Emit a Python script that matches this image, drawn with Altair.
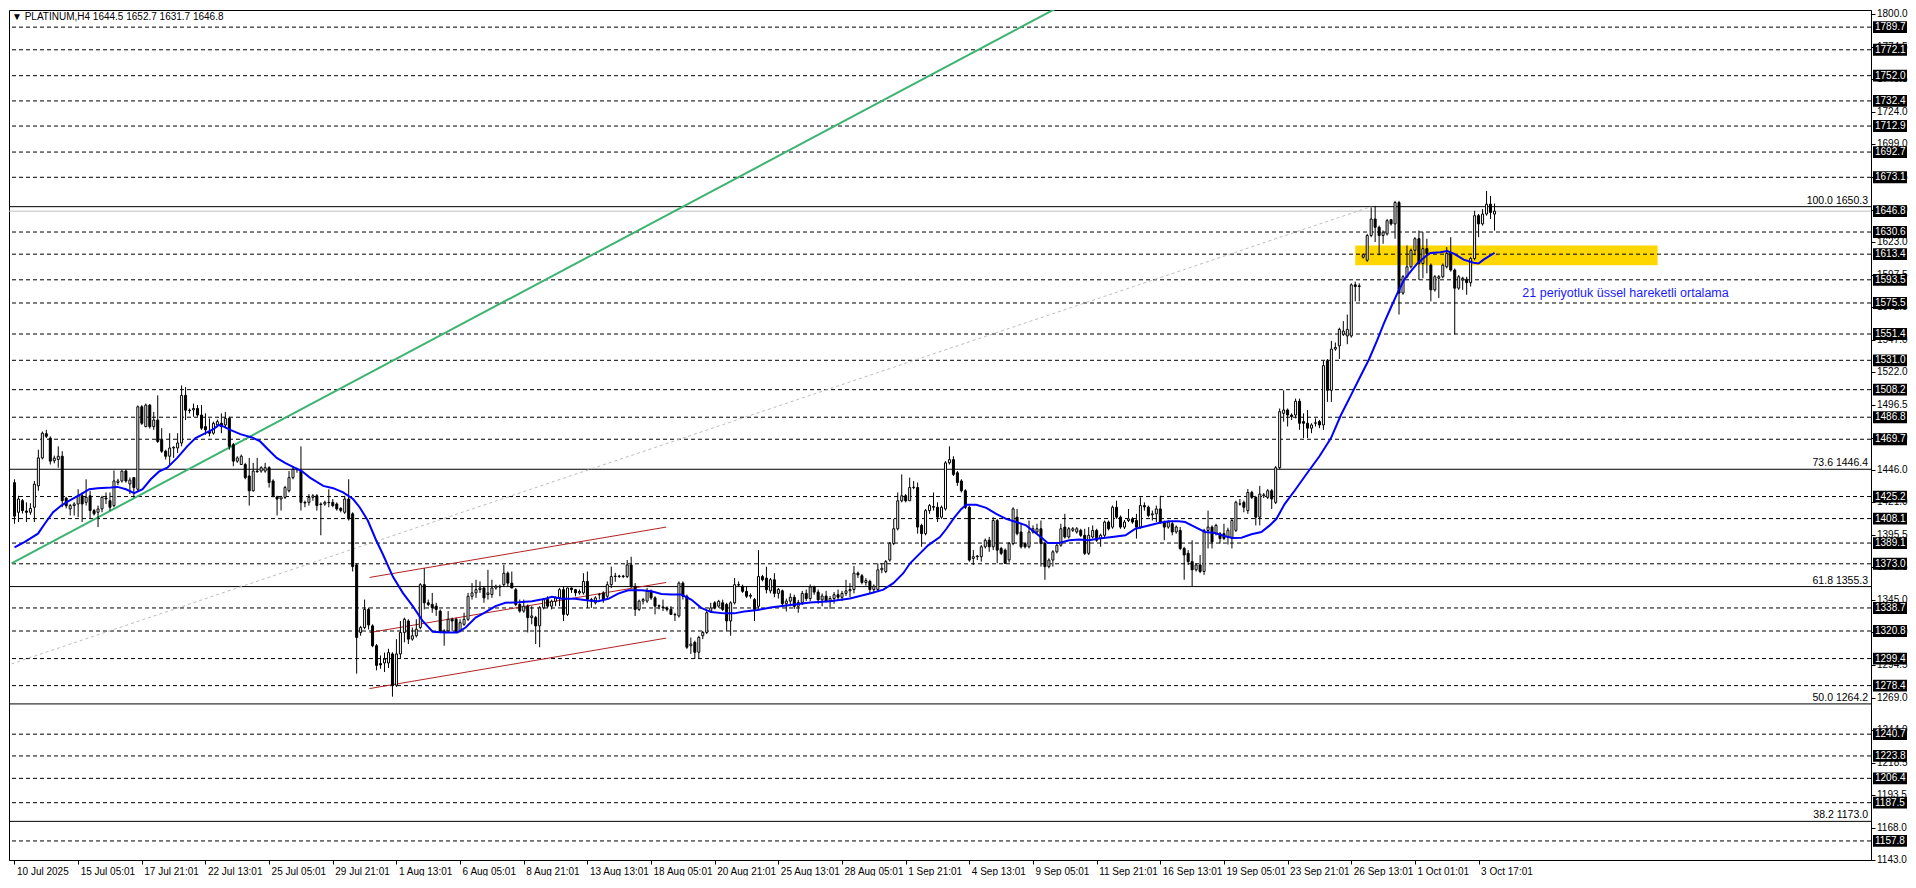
import json
import altair as alt
import pandas as pd

# ---------------- data (PLATINUM, H4) ----------------
opens = [
    1436.0, 1413.0, 1422.0, 1414.0, 1413.0, 1416.9, 1433.5, 1455.2, 1474.0, 1470.6,
    1453.0, 1454.0, 1456.5, 1424.0, 1415.6, 1418.2, 1419.4, 1425.8, 1420.7, 1425.8,
    1414.3, 1413.0, 1415.6, 1424.0, 1422.0, 1418.2, 1436.1, 1437.3, 1445.0, 1435.0,
    1439.9, 1430.9, 1494.9, 1479.5, 1496.2, 1479.5, 1484.6, 1469.3, 1460.4, 1456.5,
    1462.9, 1462.9, 1466.8, 1503.8, 1492.3, 1492.5, 1493.6, 1488.5, 1479.5, 1475.7,
    1474.4, 1480.8, 1482.1, 1480.8, 1485.9, 1465.5, 1452.7, 1450.1, 1450.1, 1441.2,
    1429.7, 1445.0, 1445.0, 1445.0, 1447.6, 1437.3, 1425.0, 1423.3, 1424.6, 1429.7,
    1439.9, 1446.3, 1445.0, 1420.7, 1420.7, 1424.6, 1425.8, 1419.4, 1419.4, 1420.7,
    1420.7, 1419.4, 1416.0, 1413.0, 1423.3, 1411.8, 1372.1, 1319.7, 1323.5, 1337.6,
    1324.8, 1309.4, 1295.5, 1296.0, 1296.0, 1303.0, 1278.7, 1303.0, 1319.7, 1328.6,
    1314.5, 1317.1, 1323.5, 1356.8, 1342.7, 1341.4, 1340.1, 1336.3, 1320.9, 1320.9,
    1329.9, 1329.9, 1320.9, 1326.0, 1329.9, 1347.8, 1350.4, 1353.0, 1354.2, 1349.1,
    1349.1, 1354.2, 1355.5, 1356.8, 1365.7, 1358.0, 1352.9, 1341.4, 1336.3, 1340.1,
    1331.2, 1331.2, 1324.8, 1338.8, 1345.2, 1340.1, 1343.9, 1346.5, 1352.9, 1333.7,
    1354.2, 1352.9, 1350.4, 1350.4, 1359.3, 1345.2, 1342.7, 1349.0, 1350.4, 1347.8,
    1356.8, 1363.1, 1363.1, 1363.5, 1363.1, 1372.1, 1355.5, 1337.6, 1344.0, 1344.0,
    1351.6, 1346.5, 1340.1, 1339.5, 1338.8, 1337.6, 1333.7, 1332.5, 1358.0, 1347.8,
    1309.4, 1312.0, 1304.3, 1317.1, 1319.7, 1336.3, 1342.7, 1340.1, 1342.7, 1341.4,
    1328.6, 1342.7, 1356.8, 1355.5, 1351.6, 1347.8, 1345.2, 1340.0, 1363.1, 1361.9,
    1352.0, 1360.6, 1350.0, 1352.0, 1342.0, 1344.0, 1347.0, 1340.0, 1343.0, 1350.0,
    1346.0, 1355.0, 1351.0, 1345.0, 1348.0, 1344.0, 1346.0, 1349.0, 1347.0, 1350.0,
    1352.0, 1353.0, 1365.7, 1363.7, 1358.5, 1359.3, 1353.0, 1353.0, 1368.3, 1367.0,
    1375.9, 1388.7, 1400.2, 1421.9, 1425.8, 1421.9, 1432.2, 1432.2, 1402.8, 1396.4,
    1414.3, 1417.5, 1416.9, 1409.2, 1415.6, 1451.4, 1453.9, 1443.7, 1437.3, 1429.7,
    1416.9, 1377.2, 1378.5, 1378.5, 1386.2, 1391.3, 1386.2, 1406.6, 1384.9, 1383.6,
    1376.0, 1388.7, 1409.2, 1397.7, 1388.7, 1386.2, 1397.7, 1397.7, 1400.2, 1388.7,
    1370.8, 1375.9, 1382.3, 1387.4, 1401.5, 1393.8, 1399.0, 1397.7, 1398.9, 1395.1,
    1381.1, 1393.8, 1398.9, 1392.6, 1395.1, 1405.4, 1401.5, 1416.9, 1409.2, 1401.5,
    1406.6, 1407.9, 1406.6, 1401.5, 1418.2, 1416.9, 1411.0, 1411.8, 1415.6, 1405.4,
    1401.5, 1404.1, 1397.7, 1398.9, 1384.9, 1381.1, 1374.7, 1368.3, 1372.1, 1367.0,
    1398.9, 1401.5, 1396.4, 1396.4, 1396.4, 1393.9, 1392.6, 1399.0, 1419.4, 1420.7,
    1414.3, 1428.4, 1424.6, 1409.2, 1425.8, 1424.6, 1429.7, 1420.7, 1447.6, 1489.8,
    1492.4, 1488.5, 1488.5, 1499.2, 1483.4, 1482.1, 1478.3, 1482.1, 1483.4, 1480.8,
    1530.7, 1507.7, 1539.7, 1542.2, 1551.2, 1549.9, 1549.9, 1589.6, 1588.8, 1611.0,
    1608.7, 1627.9, 1640.7, 1634.3, 1627.9, 1629.2, 1640.2, 1636.9, 1653.5, 1583.2,
    1595.9, 1603.6, 1616.4, 1625.4, 1606.2, 1617.7, 1604.9, 1585.7, 1594.7, 1595.9,
    1603.6, 1613.9, 1601.1, 1587.0, 1593.4, 1593.9, 1591.3, 1610.0, 1643.3, 1636.9,
    1644.6, 1652.2, 1644.5,
]
highs = [
    1438.6, 1425.8, 1423.3, 1420.7, 1420.0, 1437.3, 1461.6, 1475.7, 1477.0, 1471.9,
    1457.0, 1464.2, 1460.4, 1425.0, 1419.4, 1420.7, 1430.9, 1428.4, 1438.6, 1429.7,
    1415.6, 1418.2, 1425.8, 1428.4, 1428.4, 1445.5, 1439.0, 1445.5, 1446.3, 1440.0,
    1440.0, 1496.0, 1496.2, 1497.4, 1497.0, 1491.0, 1503.8, 1478.3, 1461.6, 1474.4,
    1464.2, 1474.4, 1511.5, 1510.2, 1493.6, 1497.4, 1496.2, 1496.2, 1489.8, 1485.9,
    1483.4, 1485.0, 1489.8, 1491.0, 1487.2, 1466.8, 1456.5, 1457.8, 1451.4, 1455.2,
    1451.4, 1455.2, 1448.8, 1451.4, 1448.8, 1438.6, 1425.8, 1425.8, 1433.5, 1445.0,
    1448.8, 1447.6, 1464.2, 1422.0, 1427.1, 1427.1, 1427.1, 1420.7, 1422.0, 1430.9,
    1423.3, 1420.7, 1417.0, 1425.8, 1438.6, 1413.0, 1373.4, 1324.8, 1345.2, 1339.0,
    1326.0, 1310.7, 1301.8, 1304.0, 1307.0, 1304.3, 1314.5, 1328.6, 1331.2, 1329.9,
    1323.5, 1329.9, 1358.0, 1369.5, 1345.2, 1350.4, 1342.7, 1337.6, 1322.2, 1336.3,
    1331.2, 1331.2, 1329.9, 1335.0, 1350.4, 1358.0, 1360.6, 1359.3, 1355.5, 1368.3,
    1360.6, 1356.8, 1356.8, 1372.1, 1367.0, 1367.0, 1354.2, 1345.2, 1345.2, 1341.4,
    1340.1, 1332.5, 1340.1, 1346.5, 1347.8, 1345.2, 1347.8, 1354.2, 1355.5, 1354.5,
    1354.5, 1353.5, 1353.0, 1365.7, 1367.0, 1346.5, 1347.8, 1350.4, 1351.6, 1359.3,
    1370.8, 1366.0, 1364.5, 1364.4, 1375.9, 1378.5, 1358.0, 1345.2, 1346.5, 1354.2,
    1353.0, 1347.8, 1341.4, 1345.2, 1340.0, 1340.1, 1335.0, 1359.3, 1359.3, 1349.1,
    1315.8, 1313.3, 1317.1, 1320.9, 1336.3, 1342.7, 1344.0, 1345.0, 1345.2, 1342.7,
    1343.9, 1361.9, 1359.3, 1356.8, 1355.5, 1350.0, 1346.5, 1383.6, 1364.4, 1370.8,
    1362.0, 1365.7, 1354.2, 1353.0, 1346.0, 1350.0, 1349.0, 1345.0, 1352.0, 1353.0,
    1357.0, 1356.0, 1353.0, 1350.0, 1352.0, 1348.0, 1351.0, 1353.0, 1352.0, 1360.6,
    1358.0, 1371.3, 1367.0, 1365.0, 1361.9, 1360.6, 1357.0, 1373.4, 1373.4, 1375.9,
    1390.0, 1407.9, 1428.4, 1442.4, 1427.1, 1439.9, 1437.3, 1436.1, 1404.1, 1415.6,
    1419.4, 1428.4, 1420.7, 1418.2, 1452.7, 1464.2, 1456.5, 1445.0, 1438.6, 1430.9,
    1418.2, 1383.6, 1379.8, 1387.5, 1392.6, 1393.9, 1409.2, 1407.9, 1386.2, 1384.9,
    1390.0, 1416.9, 1415.6, 1404.1, 1390.0, 1406.6, 1402.8, 1404.1, 1406.6, 1390.0,
    1377.2, 1383.6, 1390.0, 1404.1, 1411.8, 1401.5, 1401.5, 1401.5, 1400.2, 1400.2,
    1401.5, 1402.8, 1400.2, 1396.4, 1406.6, 1406.6, 1418.2, 1422.0, 1410.5, 1407.0,
    1415.6, 1409.2, 1411.8, 1424.6, 1420.7, 1418.2, 1414.3, 1418.2, 1425.8, 1406.6,
    1406.6, 1405.4, 1402.8, 1401.5, 1386.2, 1383.6, 1391.3, 1373.4, 1379.8, 1400.2,
    1414.3, 1402.8, 1404.1, 1397.7, 1404.1, 1401.0, 1407.9, 1422.0, 1423.3, 1422.0,
    1431.0, 1429.7, 1425.8, 1433.5, 1428.0, 1431.0, 1431.0, 1448.9, 1493.6, 1507.7,
    1493.6, 1489.8, 1501.3, 1501.3, 1489.8, 1492.3, 1482.1, 1485.9, 1484.7, 1530.7,
    1532.0, 1546.1, 1544.8, 1556.3, 1561.4, 1566.5, 1590.8, 1592.1, 1590.8, 1614.0,
    1629.2, 1649.7, 1650.9, 1635.6, 1631.8, 1640.7, 1640.7, 1654.8, 1654.8, 1597.2,
    1620.2, 1617.7, 1626.6, 1631.8, 1630.5, 1625.4, 1606.2, 1597.2, 1597.2, 1606.2,
    1618.9, 1626.6, 1602.3, 1597.2, 1595.9, 1595.9, 1611.3, 1647.1, 1644.6, 1648.4,
    1662.5, 1658.6, 1652.7,
]
lows = [
    1404.1, 1405.4, 1412.0, 1405.4, 1411.0, 1405.4, 1429.7, 1454.0, 1470.6, 1450.1,
    1451.0, 1447.6, 1416.9, 1416.0, 1410.5, 1410.5, 1409.2, 1405.4, 1418.2, 1407.9,
    1410.5, 1401.5, 1413.0, 1419.4, 1414.3, 1416.9, 1434.0, 1436.0, 1436.0, 1427.1,
    1424.6, 1429.0, 1480.8, 1479.0, 1478.0, 1477.0, 1466.8, 1459.1, 1454.0, 1450.1,
    1455.2, 1459.1, 1464.2, 1484.6, 1489.8, 1487.2, 1487.2, 1477.0, 1473.2, 1471.9,
    1473.2, 1479.0, 1474.4, 1478.3, 1461.6, 1448.8, 1451.4, 1450.0, 1438.6, 1418.2,
    1429.0, 1443.7, 1443.7, 1443.7, 1432.2, 1424.6, 1410.5, 1414.3, 1423.3, 1428.4,
    1438.6, 1443.7, 1414.3, 1416.9, 1418.2, 1422.0, 1414.3, 1395.1, 1418.0, 1416.9,
    1416.9, 1414.3, 1413.0, 1411.8, 1406.6, 1367.0, 1287.7, 1317.1, 1322.2, 1322.0,
    1308.2, 1290.3, 1291.5, 1289.0, 1292.0, 1269.8, 1277.4, 1299.2, 1312.0, 1310.7,
    1313.3, 1315.8, 1322.2, 1337.6, 1340.1, 1335.0, 1332.5, 1319.0, 1309.4, 1319.7,
    1320.9, 1319.7, 1319.7, 1324.8, 1328.6, 1345.2, 1346.5, 1350.4, 1342.7, 1345.2,
    1346.5, 1352.9, 1347.8, 1355.5, 1355.5, 1354.0, 1340.1, 1335.0, 1335.0, 1319.7,
    1326.0, 1310.7, 1308.2, 1337.6, 1338.8, 1337.6, 1340.1, 1340.1, 1328.6, 1332.5,
    1350.4, 1347.8, 1349.0, 1349.1, 1338.8, 1338.8, 1341.4, 1345.2, 1342.7, 1345.2,
    1354.2, 1359.0, 1362.0, 1361.9, 1361.9, 1354.2, 1332.5, 1336.3, 1341.4, 1342.7,
    1345.0, 1333.7, 1337.6, 1336.3, 1336.0, 1333.5, 1328.6, 1331.2, 1345.2, 1306.9,
    1303.0, 1299.2, 1299.2, 1314.5, 1318.4, 1335.0, 1337.6, 1338.8, 1336.3, 1320.9,
    1317.1, 1341.4, 1355.5, 1350.4, 1346.5, 1346.0, 1328.6, 1338.0, 1359.3, 1350.0,
    1350.0, 1347.0, 1346.0, 1340.0, 1336.0, 1340.0, 1338.0, 1335.0, 1341.0, 1344.0,
    1344.0, 1349.0, 1342.0, 1340.0, 1343.0, 1338.0, 1342.0, 1345.0, 1344.0, 1348.0,
    1347.0, 1350.0, 1362.0, 1357.0, 1356.0, 1350.0, 1350.0, 1351.0, 1365.7, 1365.7,
    1374.7, 1387.5, 1398.9, 1420.7, 1420.7, 1424.6, 1430.9, 1396.4, 1386.2, 1395.1,
    1411.8, 1414.3, 1405.4, 1407.9, 1414.3, 1450.1, 1441.2, 1433.5, 1428.4, 1415.6,
    1374.6, 1372.1, 1375.9, 1374.6, 1384.9, 1382.3, 1383.6, 1373.4, 1379.8, 1372.9,
    1374.0, 1387.4, 1395.1, 1384.9, 1384.9, 1384.9, 1396.4, 1396.4, 1370.8, 1360.6,
    1369.5, 1370.8, 1381.1, 1386.2, 1392.6, 1392.6, 1397.7, 1396.4, 1393.8, 1379.8,
    1379.8, 1392.6, 1390.0, 1386.2, 1393.8, 1398.9, 1400.2, 1407.9, 1400.2, 1400.0,
    1405.4, 1404.1, 1392.6, 1400.2, 1414.3, 1409.2, 1406.6, 1405.4, 1404.1, 1391.3,
    1400.2, 1395.1, 1396.4, 1383.6, 1360.6, 1372.1, 1355.5, 1367.0, 1365.7, 1364.4,
    1384.9, 1384.9, 1395.0, 1388.7, 1391.3, 1388.0, 1384.9, 1397.7, 1418.2, 1413.0,
    1411.8, 1423.3, 1402.8, 1402.8, 1424.0, 1423.3, 1415.6, 1419.4, 1446.3, 1483.4,
    1479.6, 1484.7, 1485.9, 1477.0, 1470.6, 1470.6, 1474.4, 1479.6, 1478.3, 1477.0,
    1498.7, 1498.7, 1538.4, 1532.0, 1549.9, 1543.5, 1548.6, 1576.8, 1576.8, 1610.0,
    1607.5, 1626.6, 1622.8, 1612.6, 1621.5, 1627.9, 1635.6, 1625.4, 1566.5, 1581.9,
    1594.7, 1602.3, 1612.6, 1593.4, 1594.7, 1598.5, 1576.8, 1584.4, 1579.3, 1594.7,
    1602.3, 1599.8, 1551.2, 1585.7, 1585.7, 1581.9, 1588.3, 1608.7, 1626.6, 1635.6,
    1643.3, 1640.7, 1631.7,
]
closes = [
    1410.0, 1423.3, 1414.3, 1413.0, 1416.0, 1434.8, 1455.2, 1474.4, 1472.0, 1452.7,
    1455.0, 1456.5, 1422.0, 1418.0, 1418.2, 1419.4, 1425.8, 1419.4, 1424.6, 1414.3,
    1411.8, 1415.6, 1424.6, 1423.3, 1416.9, 1437.3, 1437.3, 1445.0, 1437.3, 1438.0,
    1432.2, 1494.9, 1482.1, 1496.2, 1479.5, 1484.6, 1468.0, 1460.4, 1456.5, 1462.9,
    1463.5, 1466.8, 1503.8, 1492.3, 1492.0, 1493.6, 1488.5, 1478.3, 1477.0, 1474.4,
    1482.1, 1483.4, 1479.5, 1485.9, 1464.2, 1452.7, 1455.2, 1456.5, 1439.9, 1429.7,
    1445.0, 1444.5, 1447.6, 1447.6, 1436.1, 1425.8, 1423.3, 1425.0, 1432.2, 1439.9,
    1446.3, 1446.0, 1420.7, 1420.2, 1424.6, 1425.8, 1418.2, 1419.0, 1420.7, 1420.5,
    1418.2, 1415.6, 1414.5, 1423.3, 1407.9, 1370.8, 1315.8, 1323.5, 1337.6, 1325.5,
    1309.4, 1294.1, 1294.5, 1299.0, 1304.0, 1278.7, 1303.0, 1319.7, 1329.9, 1314.5,
    1317.1, 1322.2, 1356.8, 1342.7, 1341.4, 1338.8, 1337.6, 1319.7, 1319.7, 1329.9,
    1328.6, 1320.2, 1327.3, 1329.9, 1347.8, 1350.4, 1352.9, 1354.2, 1346.5, 1350.4,
    1354.2, 1355.5, 1355.0, 1365.7, 1358.0, 1354.2, 1341.4, 1336.3, 1340.1, 1331.2,
    1332.5, 1324.8, 1338.8, 1345.2, 1340.1, 1343.9, 1346.5, 1352.9, 1333.7, 1354.2,
    1352.9, 1350.4, 1351.5, 1359.3, 1345.2, 1344.0, 1346.5, 1349.1, 1345.2, 1356.8,
    1363.1, 1363.5, 1363.5, 1363.1, 1372.1, 1355.5, 1337.6, 1344.0, 1345.2, 1351.6,
    1346.5, 1340.1, 1340.5, 1338.8, 1337.6, 1333.7, 1333.3, 1358.0, 1347.8, 1308.2,
    1310.7, 1304.3, 1315.8, 1319.7, 1335.0, 1338.8, 1338.8, 1343.9, 1337.6, 1328.6,
    1342.7, 1356.8, 1356.5, 1351.6, 1347.8, 1348.5, 1337.6, 1363.1, 1360.6, 1352.9,
    1360.6, 1350.0, 1353.0, 1342.0, 1344.0, 1347.0, 1340.0, 1343.0, 1350.0, 1346.0,
    1355.0, 1351.0, 1345.0, 1348.0, 1344.0, 1346.0, 1349.0, 1347.0, 1350.0, 1352.0,
    1353.0, 1365.7, 1364.4, 1358.5, 1360.0, 1353.0, 1355.5, 1368.3, 1369.5, 1374.7,
    1388.7, 1400.2, 1421.9, 1425.8, 1421.9, 1432.2, 1432.5, 1401.5, 1396.4, 1414.3,
    1418.2, 1416.9, 1409.2, 1416.9, 1451.4, 1453.9, 1442.4, 1436.1, 1429.7, 1416.9,
    1375.9, 1378.5, 1379.0, 1386.2, 1391.3, 1386.2, 1406.6, 1383.6, 1381.1, 1373.4,
    1388.7, 1415.6, 1396.4, 1386.2, 1386.2, 1397.7, 1400.2, 1400.2, 1388.7, 1370.8,
    1375.9, 1382.3, 1387.4, 1400.2, 1393.8, 1400.2, 1400.2, 1400.2, 1395.1, 1381.1,
    1395.1, 1398.9, 1391.3, 1395.1, 1405.4, 1400.2, 1416.9, 1409.2, 1401.5, 1405.4,
    1407.9, 1405.4, 1401.5, 1418.2, 1417.2, 1410.5, 1411.8, 1415.6, 1405.4, 1401.5,
    1405.4, 1397.7, 1401.5, 1384.9, 1379.8, 1374.7, 1368.3, 1372.1, 1367.0, 1398.9,
    1401.5, 1390.0, 1402.8, 1392.6, 1392.6, 1399.0, 1406.6, 1420.7, 1419.5, 1416.9,
    1428.4, 1424.6, 1409.2, 1427.1, 1426.5, 1429.7, 1423.3, 1447.6, 1491.1, 1492.4,
    1488.5, 1487.2, 1499.2, 1482.1, 1482.1, 1478.3, 1480.8, 1482.5, 1480.8, 1526.9,
    1507.7, 1539.7, 1541.0, 1555.0, 1553.7, 1555.0, 1589.6, 1588.3, 1588.3, 1613.0,
    1627.9, 1640.7, 1634.3, 1627.9, 1630.5, 1639.4, 1636.9, 1653.5, 1583.2, 1595.9,
    1603.6, 1616.4, 1625.4, 1606.2, 1617.7, 1613.9, 1585.7, 1595.9, 1595.9, 1604.9,
    1613.9, 1601.1, 1587.0, 1595.9, 1594.7, 1591.3, 1610.0, 1643.3, 1636.9, 1644.6,
    1652.2, 1645.8, 1646.8,
]

# 21-period EMA line (bar index, price)
ema_bars = [
    0, 2.6, 5.9, 7.6, 9.7, 11.75, 13.8, 16.75, 18.8, 20.9, 24.25, 25.9, 28, 30.1, 32.2,
    34.25, 36.3, 38.4, 40.9, 43.4, 45.5, 48, 50.1, 51.3, 52.6, 54.25, 56.75, 59.7, 61.75,
    63.8, 65.9, 68, 70.1, 72.2, 74.25, 77.6, 80.1, 82.6, 85.1, 86.75, 88.8, 90.9, 92.5,
    95.1, 97.6, 100.1, 102.6, 105.1, 108.4, 111.3, 113.4, 115.9, 118.4, 120.9, 123.4,
    126.75, 130.1, 133.4, 135.1, 137.6, 140.9, 144.25, 146.75, 149.25, 151.75, 154.25,
    157.6, 160.1, 162.6, 165.1, 167.6, 170.1, 172.6, 175.1, 178.4, 180.9, 183.4, 186.75,
    190, 195, 200, 205, 210, 215, 218.4, 220.9, 223.4, 225.1, 227.6, 229.7, 232.6, 234.25,
    236.3, 238, 239.25, 241.75, 244.25, 246.75, 249.25, 251.75, 254.25, 255.9, 258.4,
    259.7, 262.6, 265.1, 267.6, 270.1, 272.6, 275.9, 279.25, 281.75, 285.1, 287.6, 290.1,
    292.6, 294.25, 296.75, 299.25, 301.75, 304.25, 306.3, 308.4, 310.9, 313.4, 315.5,
    317.2, 319.25, 321.75, 324.7, 328, 330.9, 333.4, 335.9, 338.4, 340.5, 342.6, 344.25,
    345.9, 347.6, 349.25, 350.9, 352.6, 354.7, 355.9, 358.4, 360.1, 361.75, 364.25,
    366.75, 368, 369.25, 371.75, 372,
]
ema_prices = [
    1385.7, 1390.0, 1396.4, 1404.1, 1413.0, 1418.2, 1422.0, 1427.1, 1430.9, 1431.7, 1432.2,
    1432.7, 1430.9, 1427.9, 1430.9, 1438.6, 1444.5, 1447.6, 1455.2, 1464.2, 1470.6, 1474.4,
    1477.7, 1480.8, 1479.5, 1477.0, 1473.7, 1471.1, 1468.0, 1461.6, 1455.2, 1451.4, 1448.1,
    1445.0, 1439.9, 1433.5, 1431.7, 1428.4, 1423.3, 1416.9, 1406.6, 1391.3, 1381.0, 1363.1,
    1350.4, 1340.1, 1328.6, 1320.2, 1319.7, 1319.7, 1323.5, 1331.2, 1335.5, 1340.1, 1342.7,
    1343.2, 1344.0, 1345.8, 1347.3, 1345.8, 1345.8, 1344.5, 1344.0, 1345.8, 1349.8, 1352.4,
    1352.4, 1351.6, 1349.6, 1349.1, 1349.1, 1345.2, 1338.8, 1335.5, 1334.5, 1334.5, 1336.0,
    1337.1, 1339.0, 1341.0, 1343.0, 1344.0, 1346.0, 1350.0, 1352.9, 1358.0, 1365.7, 1373.4,
    1381.1, 1387.5, 1393.8, 1400.2, 1409.2, 1415.6, 1418.9, 1418.9, 1416.4, 1411.8, 1407.9,
    1405.4, 1402.8, 1398.9, 1392.6, 1389.2, 1389.2, 1391.3, 1391.8, 1391.3, 1392.6, 1393.8,
    1395.1, 1400.2, 1402.8, 1404.6, 1406.1, 1406.1, 1405.4, 1401.5, 1397.7, 1396.9, 1394.4,
    1393.1, 1393.3, 1395.9, 1397.7, 1402.8, 1407.9, 1419.4, 1429.7, 1442.5, 1456.5, 1470.6,
    1488.5, 1503.8, 1519.2, 1532.0, 1547.3, 1560.1, 1571.6, 1583.2, 1593.4, 1599.8, 1606.2,
    1611.8, 1614.4, 1614.9, 1615.9, 1613.9, 1609.2, 1606.7, 1606.2, 1609.2, 1613.9, 1614.5,
]

date_labels = [
    "10 Jul 2025", "15 Jul 05:01", "17 Jul 21:01", "22 Jul 13:01", "25 Jul 05:01",
    "29 Jul 21:01", "1 Aug 13:01", "6 Aug 05:01", "8 Aug 21:01", "13 Aug 13:01",
    "18 Aug 05:01", "20 Aug 21:01", "25 Aug 13:01", "28 Aug 05:01", "1 Sep 21:01",
    "4 Sep 13:01", "9 Sep 05:01", "11 Sep 21:01", "16 Sep 13:01", "19 Sep 05:01",
    "23 Sep 21:01", "26 Sep 13:01", "1 Oct 01:01", "3 Oct 17:01",
]
axis_ticks = [
    1800.0, 1774.5, 1749.5, 1724.0, 1699.0, 1673.5, 1648.0, 1623.0, 1597.5, 1572.5,
    1547.0, 1522.0, 1496.5, 1471.0, 1446.0, 1421.0, 1395.5, 1370.5, 1345.0, 1320.0,
    1294.5, 1269.0, 1244.0, 1218.5, 1193.5, 1168.0, 1143.0,
]
level_prices = [
    1789.7, 1772.1, 1752.0, 1732.4, 1712.9, 1692.7, 1673.1, 1630.6, 1613.4, 1593.5,
    1575.5, 1551.4, 1531.0, 1508.2, 1486.8, 1469.7, 1425.2, 1408.1, 1389.1, 1373.0,
    1338.7, 1320.8, 1299.4, 1278.4, 1240.7, 1223.8, 1206.4, 1187.5, 1157.8,
]
bid_price = 1646.8
fib_ratios = ["100.0", "73.6", "61.8", "50.0", "38.2"]
fib_prices = [1650.3, 1446.4, 1355.3, 1264.2, 1173.0]
fib_diag_bars = [-0.75, 341.0]
fib_diag_prices = [1295.3, 1650.3]
green_bars = [-0.75, 300.0]
green_prices = [1373.4, 1866.9]
channel_bars = [89.25, 163.8]
channel_starts = [1362.4, 1319.6, 1276.1]
channel_ends = [1401.5, 1358.5, 1315.3]
zone_bars = [337.0, 413.0]
zone_prices = [1604.9, 1620.2]
note_text = "21 periyotluk üssel hareketli ortalama"
note_bar, note_price = 379.0, 1583.0
title_text = "\u25bc PLATINUM,H4  1644.5 1652.7 1631.7 1646.8"

# ---------------- build tables ----------------
n = len(closes)
bars = pd.DataFrame({"bar": list(range(n)), "open": opens, "high": highs,
                     "low": lows, "close": closes})
bars["top"] = bars[["open", "close"]].max(axis=1)
bars["bot"] = bars[["open", "close"]].min(axis=1)
bars["dir"] = ["up" if c >= o else "down" for o, c in zip(opens, closes)]
ema_df = pd.DataFrame({"bar": ema_bars, "ema": ema_prices})

W, H = 1862, 850
xs = alt.Scale(domain=[-0.125, -0.125 + W / 4.0], nice=False, zero=False)
ys = alt.Scale(domain=[1143.0, 1803.0], nice=False, zero=False)
FONT = "Liberation Sans"

x_axis = alt.Axis(values=[16 * k for k in range(len(date_labels))],
                  labelExpr=json.dumps(date_labels) + "[round(datum.value / 16)]",
                  orient="bottom", tickSize=4, labelAlign="left", labelBaseline="top",
                  labelPadding=2, labelOffset=2, labelOverlap=False, labelFlush=False,
                  domain=False, title=None, grid=False)
# right price scale: ticks from the axis, its numbers drawn as a text layer below the boxes
y_axis = alt.Axis(values=axis_ticks, orient="right", tickSize=4, labels=False,
                  title=None, grid=False)


def X(f):
    return alt.X(f, scale=xs, axis=x_axis)


def Y(f):
    return alt.Y(f, scale=ys, axis=y_axis)


zone = alt.Chart(pd.DataFrame({"b0": [zone_bars[0]], "b1": [zone_bars[1]],
                               "p0": [zone_prices[0]], "p1": [zone_prices[1]]})).mark_rect(
    color="#FFD700", clip=True).encode(x=X("b0:Q"), x2="b1:Q", y=Y("p0:Q"), y2="p1:Q")

levels = alt.Chart(pd.DataFrame({"price": level_prices})).mark_rule(
    color="black", strokeWidth=1, strokeDash=[4, 3]).encode(y=Y("price:Q"))

bid = alt.Chart(pd.DataFrame({"price": [bid_price]})).mark_rule(
    color="#c0c0c0", strokeWidth=1).encode(y=Y("price:Q"))

fib_df = pd.DataFrame({"price": fib_prices, "ratio": fib_ratios})
fib_df["label"] = [f"{r} {p:.1f}" for r, p in zip(fib_ratios, fib_prices)]
fibs = alt.Chart(fib_df).mark_rule(color="black", strokeWidth=1).encode(y=Y("price:Q"))
fib_text = alt.Chart(fib_df).mark_text(
    align="right", baseline="bottom", dy=-1, font=FONT, fontSize=10.5, color="black").encode(
    x=alt.value(W - 3), y=Y("price:Q"), text="label:N")

diag = alt.Chart(pd.DataFrame({"b0": [fib_diag_bars[0]], "b1": [fib_diag_bars[1]],
                               "p0": [fib_diag_prices[0]], "p1": [fib_diag_prices[1]]})).mark_rule(
    color="#bdbdbd", strokeWidth=1, strokeDash=[3, 3], clip=True).encode(
    x=X("b0:Q"), x2="b1:Q", y=Y("p0:Q"), y2="p1:Q")

green = alt.Chart(pd.DataFrame({"b0": [green_bars[0]], "b1": [green_bars[1]],
                                "p0": [green_prices[0]], "p1": [green_prices[1]]})).mark_rule(
    color="#3CB371", strokeWidth=2, clip=True).encode(
    x=X("b0:Q"), x2="b1:Q", y=Y("p0:Q"), y2="p1:Q")

chan = alt.Chart(pd.DataFrame({"b0": [channel_bars[0]] * 3, "b1": [channel_bars[1]] * 3,
                               "p0": channel_starts, "p1": channel_ends})).mark_rule(
    color="#B22222", strokeWidth=1, clip=True).encode(
    x=X("b0:Q"), x2="b1:Q", y=Y("p0:Q"), y2="p1:Q")

wicks = alt.Chart(bars).mark_rule(color="black", strokeWidth=1, clip=True).encode(
    x=X("bar:Q"), y=Y("low:Q"), y2="high:Q")

bodies = alt.Chart(bars).mark_bar(size=2, stroke="black", strokeWidth=1, clip=True).encode(
    x=X("bar:Q"), y=Y("bot:Q"), y2="top:Q",
    fill=alt.Fill("dir:N", scale=alt.Scale(domain=["up", "down"], range=["white", "black"]),
                  legend=None),
)

ema_line = alt.Chart(ema_df).mark_line(color="#0000FF", strokeWidth=2, clip=True).encode(
    x=X("bar:Q"), y=Y("ema:Q"))

note = alt.Chart(pd.DataFrame({"bar": [note_bar], "price": [note_price], "t": [note_text]})).mark_text(
    align="left", baseline="middle", font=FONT, fontSize=12.5, color="#1a1aff").encode(
    x=X("bar:Q"), y=Y("price:Q"), text="t:N")

title = alt.Chart(pd.DataFrame({"t": [title_text]})).mark_text(
    align="left", baseline="top", font=FONT, fontSize=10, color="black").encode(
    x=alt.value(3), y=alt.value(2), text="t:N")

tick_labels = alt.Chart(pd.DataFrame({"price": axis_ticks})).mark_text(
    align="left", baseline="middle", font=FONT, fontSize=10, color="black", clip=False).encode(
    x=alt.value(W + 6), y=Y("price:Q"), text=alt.Text("price:Q", format=".1f"))

box_df = pd.DataFrame({"price": level_prices + [bid_price]})
boxes = alt.Chart(box_df).transform_calculate(
    lo="datum.price - 4.6", hi="datum.price + 4.6").mark_rect(color="black", clip=False).encode(
    x=alt.value(W + 2), x2=alt.value(W + 36), y=Y("lo:Q"), y2="hi:Q")
box_text = alt.Chart(box_df).mark_text(
    align="left", baseline="middle", font=FONT, fontSize=10, color="white", clip=False).encode(
    x=alt.value(W + 4), y=Y("price:Q"), text=alt.Text("price:Q", format=".1f"))

chart = alt.layer(
    zone, levels, bid, fibs, fib_text, diag, green, chan, wicks, bodies, ema_line,
    note, title, tick_labels, boxes, box_text,
).properties(width=W, height=H, padding=0, background="white").configure_view(
    stroke="black", strokeWidth=1
).configure_axis(
    labelFont=FONT, labelFontSize=10, labelColor="black", tickColor="black",
    domainColor="black", tickWidth=1, domainWidth=1
)

chart.save("out.html", embed_options={"renderer": "svg", "actions": False})
